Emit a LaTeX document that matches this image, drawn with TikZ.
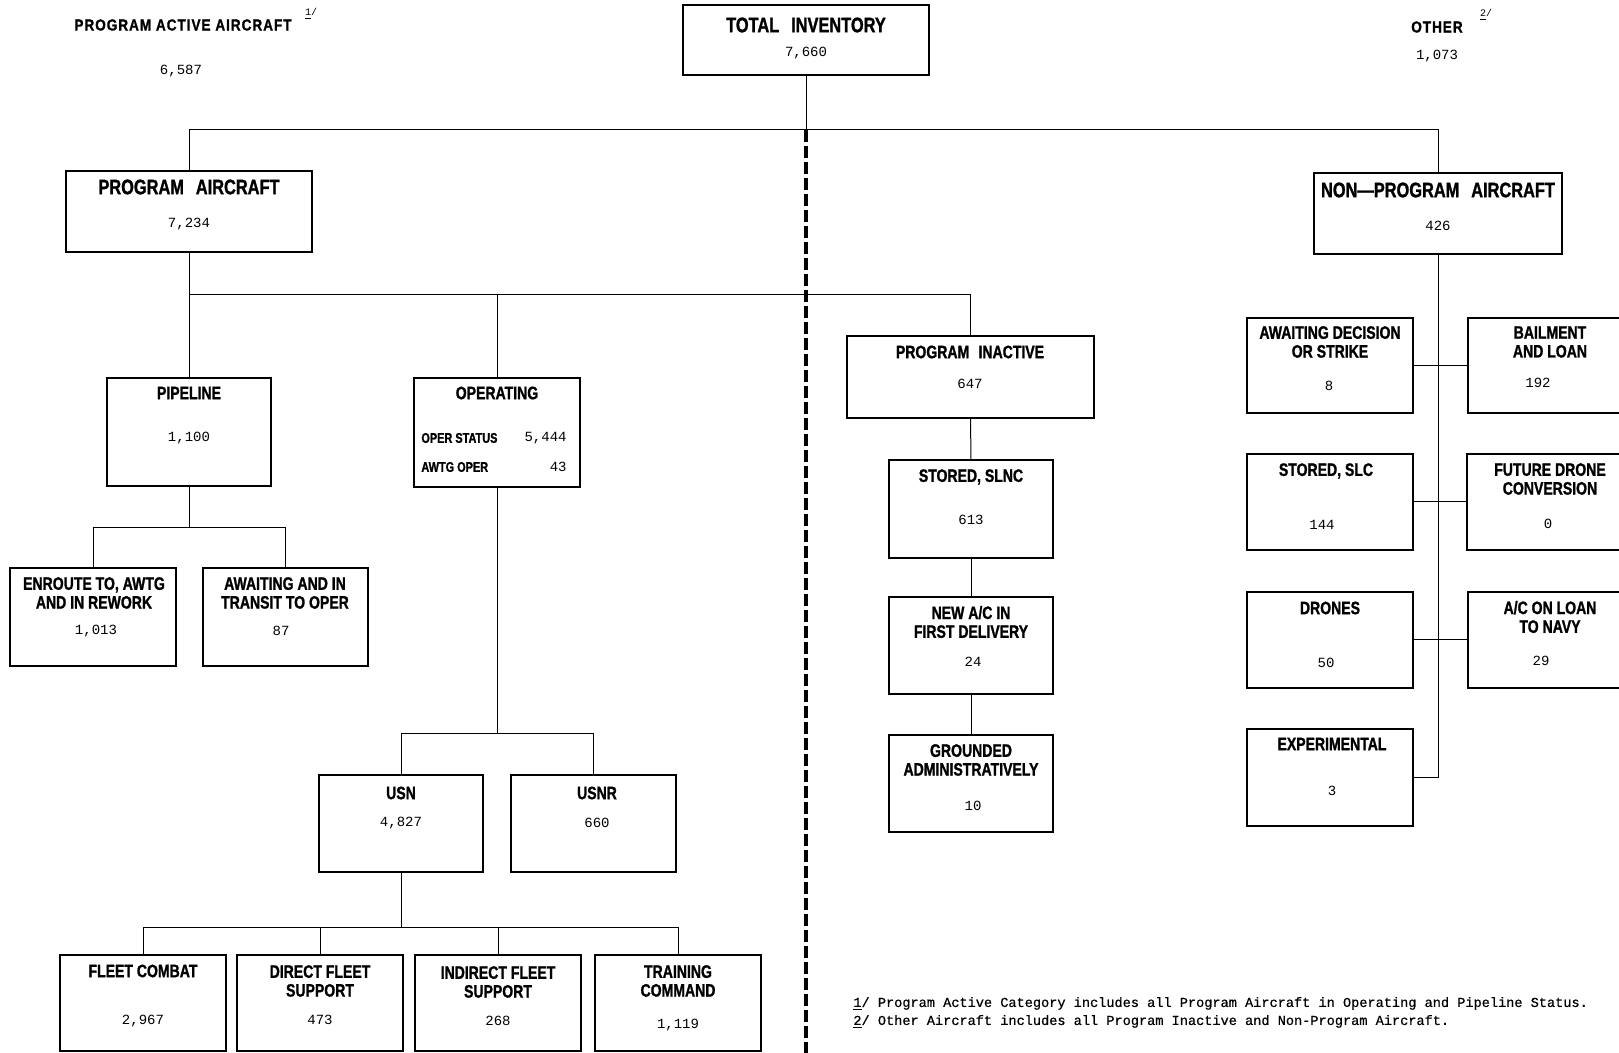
\documentclass[tikz,border=0pt]{standalone}
\usepackage{fontspec}
\setmainfont{Liberation Sans}
\newfontfamily\tf{Liberation Sans}[FakeStretch=0.78,FakeBold=1.2]
\newfontfamily\hf{Liberation Sans}[FakeStretch=0.85,LetterSpace=6,FakeBold=1]
\newfontfamily\nf{Liberation Mono}
\newfontfamily\ntf{Liberation Mono}[FakeBold=0.6]
\newcommand\bx[5]{\node[boxst, minimum width={(#4-#2)*0.5pt}, minimum height={(#5-#3)*0.5pt}] (#1) at ({(#2+#4)/2},{(#3+#5)/2}) {};}
\tikzset{
  boxst/.style={draw, line width=0.6pt, inner sep=0pt, outer sep=0pt, rectangle, anchor=center},
  big/.style={font=\tf\bfseries\fontsize{10.5}{11}\selectfont, inner sep=0pt},
  ttl/.style={font=\tf\bfseries\fontsize{9}{9.4}\selectfont, align=center, inner sep=0pt},
  sml/.style={font=\tf\bfseries\fontsize{7}{8}\selectfont, inner sep=0pt},
  num/.style={font=\nf\fontsize{7}{8}\selectfont, inner sep=0pt},
  hdr/.style={font=\hf\bfseries\fontsize{8}{9}\selectfont, inner sep=0pt},
  fmark/.style={font=\nf\fontsize{5}{5}\selectfont, inner sep=0pt},
  note/.style={font=\ntf\fontsize{6.8}{8}\selectfont, anchor=west, inner sep=0pt},
  conn/.style={line width=0.5pt},
  sepline/.style={line width=2pt, dash pattern=on 6pt off 2pt}
}
\begin{document}
\begin{tikzpicture}[x=0.5pt,y=-0.5pt]
\useasboundingbox (0,0) rectangle (1619,1053);
\clip (0,0) rectangle (1619,1053);
% boxes
\bx{ti}{683}{5}{929}{75}
\bx{pa}{66}{171}{312}{252}
\bx{npa}{1314}{173}{1562}{254}
\bx{pip}{107}{378}{271}{486}
\bx{ope}{414}{378}{580}{487}
\bx{pin}{847}{336}{1094}{418}
\bx{enr}{10}{568}{176}{666}
\bx{awt}{203}{568}{368}{666}
\bx{usn}{319}{775}{483}{872}
\bx{usr}{511}{775}{676}{872}
\bx{flc}{60}{955}{226}{1051}
\bx{dfs}{237}{955}{403}{1051}
\bx{ifs}{415}{955}{581}{1051}
\bx{trc}{595}{955}{761}{1051}
\bx{sln}{889}{460}{1053}{558}
\bx{new}{889}{597}{1053}{694}
\bx{grd}{889}{735}{1053}{832}
\bx{awd}{1247}{318}{1413}{413}
\bx{bal}{1468}{318}{1632}{413}
\bx{slc}{1247}{454}{1413}{550}
\bx{fdc}{1467}{454}{1632}{550}
\bx{drn}{1247}{592}{1413}{688}
\bx{aln}{1468}{592}{1632}{688}
\bx{exp}{1247}{729}{1413}{826}
% junction coordinates
\coordinate (jt) at (806,130);
\coordinate (sepend) at (806,1053);
\coordinate (jp) at (189,295);
\coordinate (jpp) at (189,528);
\coordinate (jo) at (497,734);
\coordinate (ju) at (401,927);
% connectors
\draw[conn] (ti.south) -- (jt);
\draw[conn] (pa.north) -- (pa.north |- jt) -- (npa.north |- jt) -- (npa.north);
\draw[sepline] (jt) -- (sepend);
\draw[conn] (pa.south) -- (pip.north);
\draw[conn] (pa.south |- jp) -- (pin.north |- jp) -- (pin.north);
\draw[conn] (ope.north |- jp) -- (ope.north);
\draw[conn] (pip.south) -- (pip.south |- jpp);
\draw[conn] (enr.north) -- (enr.north |- jpp) -- (awt.north |- jpp) -- (awt.north);
\draw[conn] (ope.south) -- (ope.south |- jo);
\draw[conn] (usn.north) -- (usn.north |- jo) -- (usr.north |- jo) -- (usr.north);
\draw[conn] (usn.south) -- (usn.south |- ju);
\draw[conn] (flc.north) -- (flc.north |- ju) -- (trc.north |- ju) -- (trc.north);
\draw[conn] (dfs.north |- ju) -- (dfs.north);
\draw[conn] (ifs.north |- ju) -- (ifs.north);
\draw[conn] (pin.south) -- (sln.north);
\draw[conn] (sln.south) -- (new.north);
\draw[conn] (new.south) -- (grd.north);
\draw[conn] (npa.south) -- (npa.south |- exp.east) -- (exp.east);
\draw[conn] (awd.east) -- (bal.west);
\draw[conn] (slc.east) -- (fdc.west);
\draw[conn] (drn.east) -- (aln.west);
% header texts
\node[hdr] (hpa) at (183,25) {PROGRAM ACTIVE AIRCRAFT};
\node[fmark] (hpam) at (311,14) {\underline{1}/};
\node[num] (hpan) at (181,71) {6,587};
\node[hdr] (hot) at (1437,27) {OTHER};
\node[fmark] (hotm) at (1486,15) {\underline{2}/};
\node[num] (hotn) at (1437,56) {1,073};
% box texts
\node[big] (tit) at (806,25) {TOTAL\hspace{0.35em} INVENTORY};
\node[num] (tin) at (806,53) {7,660};
\node[big] (pat) at (189,187) {PROGRAM\hspace{0.35em} AIRCRAFT};
\node[num] (pan) at (189,224) {7,234};
\node[big] (npat) at (1438,190) {NON—PROGRAM\hspace{0.35em} AIRCRAFT};
\node[num] (npan) at (1438,226) {426};
\node[ttl] (pipt) at (189,393) {PIPELINE};
\node[num] (pipn) at (189,438) {1,100};
\node[ttl] (opet) at (497,393) {OPERATING};
\node[sml, anchor=west] (opes) at (421,438) {OPER STATUS};
\node[num, anchor=east] (opesn) at (567,438) {5,444};
\node[sml, anchor=west] (opea) at (421,467) {AWTG OPER};
\node[num, anchor=east] (opean) at (567,467) {43};
\node[ttl] (pint) at (970,352) {PROGRAM\hspace{0.3em} INACTIVE};
\node[num] (pinn) at (970,384) {647};
\node[ttl] (enrt) at (94,593) {ENROUTE TO, AWTG\\AND IN REWORK};
\node[num] (enrn) at (96,631) {1,013};
\node[ttl] (awtt) at (285,593) {AWAITING AND IN\\TRANSIT TO OPER};
\node[num] (awtn) at (281,631) {87};
\node[ttl] (usnt) at (401,793) {USN};
\node[num] (usnn) at (401,823) {4,827};
\node[ttl] (usrt) at (597,793) {USNR};
\node[num] (usrn) at (597,823) {660};
\node[ttl] (flct) at (143,971) {FLEET COMBAT};
\node[num] (flcn) at (143,1021) {2,967};
\node[ttl] (dfst) at (320,981) {DIRECT FLEET\\SUPPORT};
\node[num] (dfsn) at (320,1020) {473};
\node[ttl] (ifst) at (498,982) {INDIRECT FLEET\\SUPPORT};
\node[num] (ifsn) at (498,1021) {268};
\node[ttl] (trct) at (678,981) {TRAINING\\COMMAND};
\node[num] (trcn) at (678,1025) {1,119};
\node[ttl] (slnt) at (971,477) {STORED, SLNC};
\node[num] (slnn) at (971,520) {613};
\node[ttl] (newt) at (971,622) {NEW A/C IN\\FIRST DELIVERY};
\node[num] (newn) at (973,662) {24};
\node[ttl] (grdt) at (971,760) {GROUNDED\\ADMINISTRATIVELY};
\node[num] (grdn) at (973,806) {10};
\node[ttl] (awdt) at (1330,342) {AWAITING DECISION\\OR STRIKE};
\node[num] (awdn) at (1329,386) {8};
\node[ttl] (balt) at (1550,342) {BAILMENT\\AND LOAN};
\node[num] (baln) at (1538,383) {192};
\node[ttl] (slct) at (1326,471) {STORED, SLC};
\node[num] (slcn) at (1322,525) {144};
\node[ttl] (fdct) at (1550,479) {FUTURE DRONE\\CONVERSION};
\node[num] (fdcn) at (1548,524) {0};
\node[ttl] (drnt) at (1330,608) {DRONES};
\node[num] (drnn) at (1326,663) {50};
\node[ttl] (alnt) at (1550,617) {A/C ON LOAN\\TO NAVY};
\node[num] (alnn) at (1541,661) {29};
\node[ttl] (expt) at (1332,744) {EXPERIMENTAL};
\node[num] (expn) at (1332,791) {3};
% footnotes
\node[note] (fn1) at (853,1004) {\underline{1}/ Program Active Category includes all Program Aircraft in Operating and Pipeline Status.};
\node[note] (fn2) at (853,1022) {\underline{2}/ Other Aircraft includes all Program Inactive and Non-Program Aircraft.};
\end{tikzpicture}
\end{document}
